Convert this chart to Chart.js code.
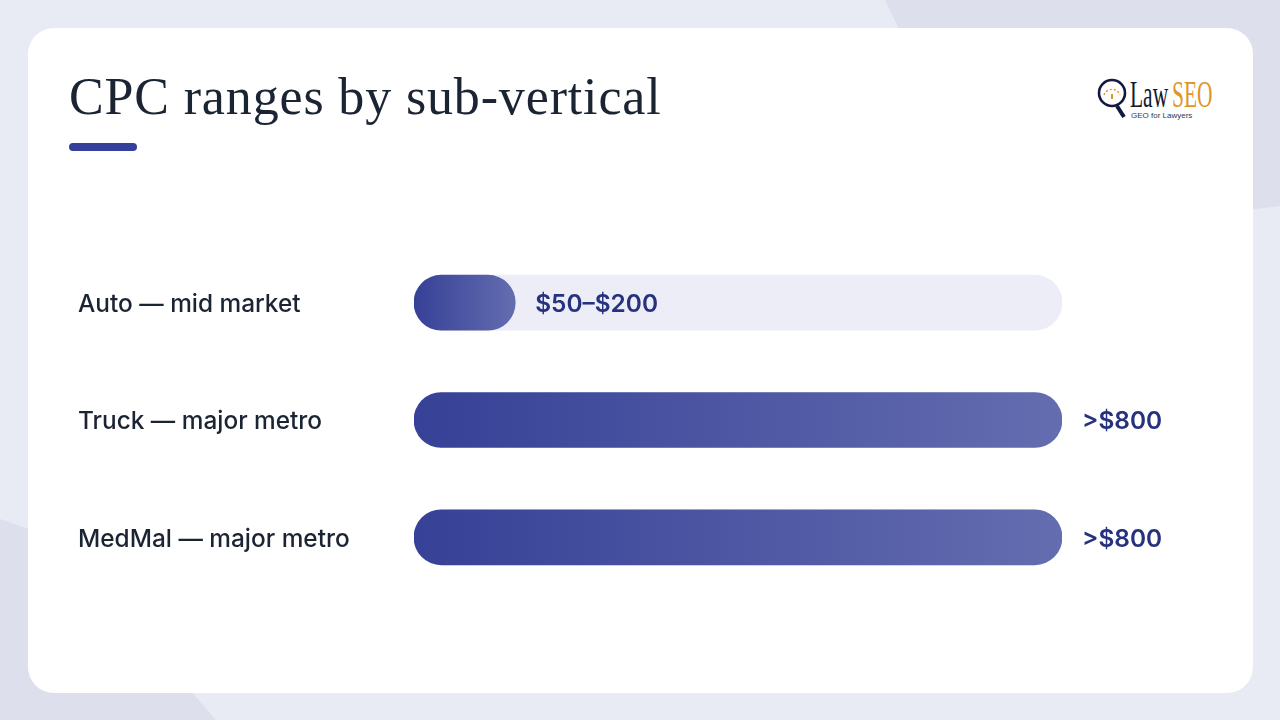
<!DOCTYPE html>
<html>
<head>
<meta charset="utf-8">
<title>CPC ranges by sub-vertical</title>
<script src="https://cdn.jsdelivr.net/npm/chart.js@4"></script>
<style>
    html, body { margin: 0; padding: 0; }
    #slide { position: relative; width: 1280px; height: 720px; overflow: hidden; background: #E9EBF4; }
    #bgTop { position: absolute; inset: 0; background: #DDDFEC; clip-path: polygon(885px 0, 1280px 0, 1280px 206px, 1000px 240px); }
    #bgBottom { position: absolute; inset: 0; background: #DDDFEC; clip-path: polygon(0 519px, 60px 540px, 216px 720px, 0 720px); }
    #card { position: absolute; left: 28px; top: 28px; width: 1225px; height: 665px; background: #fff; border-radius: 26px; }
    h1 { position: absolute; left: 69px; top: 67px; margin: 0; font: 400 52px "Liberation Serif", serif; letter-spacing: 0.85px; color: #1B2433; white-space: nowrap; }
    #rule { position: absolute; left: 69px; top: 143px; width: 68px; height: 8px; border-radius: 4px; background: #35409A; }
    #logo { position: absolute; left: 1096px; top: 76px; width: 120px; height: 46px; }
    #logoLaw, #logoSeo { position: absolute; top: 0; font: 400 37px/37px "Liberation Serif", serif; transform: scaleX(0.58); transform-origin: left top; white-space: nowrap; }
    #logoLaw { left: 34px; color: #14182E; }
    #logoSeo { left: 76px; color: #E0952A; }
    #logoSub { position: absolute; left: 35px; top: 35px; font: 400 8px/10px "Liberation Sans", sans-serif; color: #33384F; white-space: nowrap; }
    #logo svg { position: absolute; left: 0; top: 0; }
    canvas { position: absolute; left: 0; top: 0; }
</style>
</head>
<body>
<div id="slide">
    <div id="bgTop"></div>
    <div id="bgBottom"></div>
    <div id="card"></div>
    <h1>CPC ranges by sub-vertical</h1>
    <div id="rule"></div>
    <div id="logo">
        <svg width="34" height="46" viewBox="0 0 34 46">
            <circle cx="16" cy="17" r="13" fill="#fff" stroke="#14183F" stroke-width="2.6"/>
            <path d="M8 19 A8.5 8.5 0 0 1 24 19" fill="none" stroke="#E0952A" stroke-width="1.4" stroke-dasharray="2 2"/>
            <line x1="16" y1="18" x2="16" y2="23" stroke="#E0952A" stroke-width="2"/>
            <line x1="21" y1="30" x2="28" y2="41" stroke="#14183F" stroke-width="4"/>
        </svg>
        <span id="logoLaw">Law</span>
        <span id="logoSeo">SEO</span>
        <span id="logoSub">GEO for Lawyers</span>
    </div>
    <canvas id="grafiks" width="1280" height="720"></canvas>
</div>
<script>
// Chart data
const kategorijas = ["Auto — mid market", "Truck — major metro", "MedMal — major metro"];
const vertibas = [125, 800, 800];   // Auto is the middle of $50-$200
const fons = [800, 800, 800];
const etiketes = ["$50–$200", ">$800", ">$800"];

// Value text next to the end of each bar
const etikesuSprauds = {
    id: "etikesuSprauds",
    afterDatasetsDraw(chart) {
        const ctx = chart.ctx;
        const x = chart.scales.x;
        const y = chart.scales.y;
        ctx.save();
        ctx.font = '600 24.4px "Inter", sans-serif';
        ctx.fillStyle = "#27327F";
        ctx.textAlign = "left";
        ctx.textBaseline = "middle";
        etiketes.forEach((teksts, i) => {
            ctx.fillText(teksts, x.getPixelForValue(vertibas[i]) + 20, y.getPixelForValue(i) + 2);
        });
        ctx.restore();
    }
};

new Chart(document.getElementById("grafiks"), {
    type: "bar",
    data: {
        labels: kategorijas,
        datasets: [
            {
                data: vertibas,
                backgroundColor(context) {
                    const x = context.chart.scales.x;
                    // Scales have no pixels until the first layout
                    if (!x || !context.chart.chartArea) return "#364197";
                    const sakums = x.getPixelForValue(0);
                    const beigas = x.getPixelForValue(vertibas[context.dataIndex]);
                    if (!isFinite(sakums) || !isFinite(beigas)) return "#364197";
                    const g = context.chart.ctx.createLinearGradient(sakums, 0, beigas, 0);
                    g.addColorStop(0, "#364197");
                    g.addColorStop(1, "#646DAF");
                    return g;
                }
            },
            {
                data: fons,
                backgroundColor: "#ECEDF6"
            }
        ]
    },
    options: {
        indexAxis: "y",
        responsive: false,
        animation: false,
        layout: { padding: { left: 78, right: 218, top: 244, bottom: 124 } },
        datasets: {
            bar: { grouped: false, barThickness: 55, borderRadius: 28, borderSkipped: false }
        },
        plugins: {
            legend: { display: false },
            title: { display: false },
            tooltip: { enabled: false }
        },
        scales: {
            x: { display: false, min: 0, max: 800 },
            y: {
                afterFit(scale) { scale.width = 336; },
                grid: { display: false },
                border: { display: false },
                ticks: {
                    crossAlign: "far",
                    padding: 0,
                    labelOffset: 2,
                    color: "#1B2433",
                    font: { family: "Inter", size: 24.4, weight: "500" }
                }
            }
        }
    },
    plugins: [etikesuSprauds]
});
</script>
</body>
</html>
